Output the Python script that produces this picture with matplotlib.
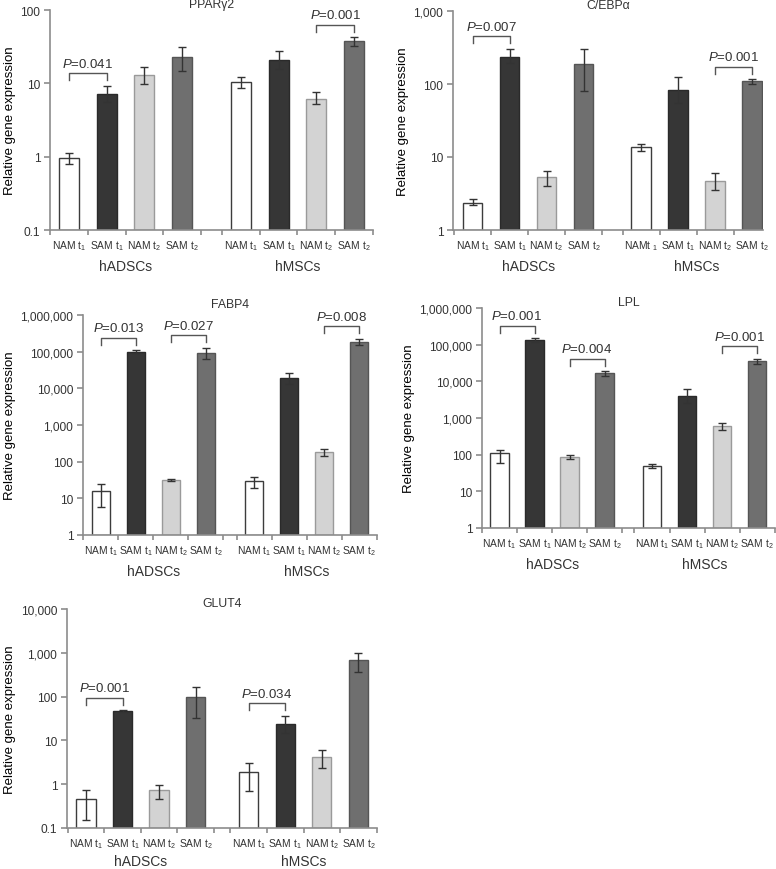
import numpy as np
import matplotlib
matplotlib.use('Agg')
import matplotlib.pyplot as plt
from matplotlib.ticker import FuncFormatter, NullLocator

plt.rcParams['font.family'] = ['Liberation Sans', 'DejaVu Sans']
plt.rcParams['mathtext.fontset'] = 'custom'
plt.rcParams['mathtext.rm'] = 'Liberation Sans'
plt.rcParams['mathtext.it'] = 'Liberation Sans:italic'
plt.rcParams['text.color'] = '#333333'

# --- data ---
groups = ['hADSCs', 'hMSCs']
labels = ['NAM t$_1$', 'SAM t$_1$', 'NAM t$_2$', 'SAM t$_2$']
labels_cebpa = ['NAM t$_1$', 'SAM t$_1$', 'NAM t$_2$', 'SAM t$_2$',
                'NAMt $_1$', 'SAM t$_1$', 'NAM t$_2$', 'SAM t$_2$']

pparg2_mean = [0.95, 7.1, 13.1, 23.1, 10.3, 20.8, 6.2, 37.8]
pparg2_lo = [0.79, 5.5, 9.7, 14.9, 8.6, 15.5, 5.2, 32]
pparg2_hi = [1.12, 9.3, 16.5, 31.6, 12.3, 27.9, 7.7, 42.8]
pparg2_p = [(0, 1, '0.041'), (6, 7, '0.001')]

cebpa_mean = [2.38, 238, 5.34, 187, 13.8, 82.8, 4.75, 109]
cebpa_lo = [2.19, 193, 4.0, 81, 11.9, 55, 3.55, 99]
cebpa_hi = [2.65, 306, 6.5, 300, 15.2, 125, 6.0, 117]
cebpa_p = [(0, 1, '0.007'), (6, 7, '0.001')]

fabp4_mean = [15.8, 98000, 32.3, 94000, 29.7, 18700, 183, 187000]
fabp4_lo = [5.9, 90000, 30.3, 64000, 18.7, 13000, 140, 156000]
fabp4_hi = [25, 109000, 34.4, 128000, 38, 26700, 226, 226000]
fabp4_p = [(0, 1, '0.013'), (2, 3, '0.027'), (6, 7, '0.008')]

lpl_mean = [108, 133000, 89, 16600, 47.6, 3900, 590, 36100]
lpl_lo = [59, 117000, 77, 14400, 42.8, 2500, 459, 30500]
lpl_hi = [136, 151000, 101, 18800, 54, 6200, 743, 41000]
lpl_p = [(0, 1, '0.001'), (2, 3, '0.004'), (6, 7, '0.001')]

glut4_mean = [0.45, 46.5, 0.735, 98.6, 1.89, 23.5, 4.23, 676]
glut4_lo = [0.152, 44, 0.47, 32, 0.69, 15, 2.37, 360]
glut4_hi = [0.75, 49, 0.94, 164, 3.09, 36.4, 5.9, 993]
glut4_p = [(0, 1, '0.001'), (4, 5, '0.034')]

faces = ['white', '#363636', '#d3d3d3', '#6f6f6f']
edges = ['#3c3c3c', '#2a2a2a', '#9a9a9a', '#555555']
AXC = '#8c8c8c'
W, H = 776, 870


def fmt(v, pos):
    return f'{v:,.0f}' if v >= 1 else f'{v:g}'


def bracket(ax, x1, x2, ybase, label):
    # bracket sits a fixed number of pixels above the highest error cap
    yd = ax.transData.transform((0, ybase))[1]
    inv = ax.transData.inverted()
    ytop = inv.transform((0, yd + 12.5))[1]
    ydrop = inv.transform((0, yd + 5.5))[1]
    ax.plot([x1, x1, x2, x2], [ydrop, ytop, ytop, ydrop], color='#555555', lw=1, clip_on=False)
    ax.annotate('$P$=' + label, xy=((x1 + x2) / 2, ytop), xytext=(0, 2.5),
                textcoords='offset points', ha='center', va='bottom', fontsize=9.5)


def panel(fig, px, title, mean, lo, hi, pvals, ylim, gap, xl, tpad, cats, gy=-26):
    l, r, t, b = px
    ax = fig.add_axes([l / W, 1 - b / H, (r - l) / W, (b - t) / H])
    x = np.array([0, 1, 2, 3, 4 + gap, 5 + gap, 6 + gap, 7 + gap])
    mean, lo, hi = np.array(mean), np.array(lo), np.array(hi)
    ax.set_yscale('log')
    ax.set_xlim(xl)
    ax.set_ylim(ylim)
    ax.bar(x, mean - ylim[0], bottom=ylim[0], width=0.53,
           color=faces * 2, edgecolor=edges * 2, linewidth=1, zorder=2)
    ax.errorbar(x, mean, yerr=[mean - lo, hi - mean], fmt='none', ecolor='#333333',
                elinewidth=1, capsize=2.6, capthick=1, zorder=3)
    for i, j, lab in pvals:
        bracket(ax, x[i], x[j], max(hi[i], hi[j]), lab)

    for s in ['top', 'right']:
        ax.spines[s].set_visible(False)
    for s in ['left', 'bottom']:
        ax.spines[s].set_color(AXC)
        ax.spines[s].set_linewidth(1.2)

    dec = np.arange(np.log10(ylim[0]), np.log10(ylim[1]) + 1)
    ax.set_yticks(10.0 ** dec)
    ax.yaxis.set_minor_locator(NullLocator())
    ax.yaxis.set_major_formatter(FuncFormatter(fmt))
    ax.tick_params(axis='y', colors=AXC, labelcolor='#333333', labelsize=8.6, length=4, width=1.2, pad=3)

    ax.set_xticks(x)
    ax.set_xticklabels(cats, fontsize=7.4)
    bnd = sorted(set(np.round(np.concatenate([x - 0.5, x + 0.5]), 3)))
    bnd = [v for v in bnd if xl[0] - 0.02 <= v <= xl[1] + 0.02]
    ax.set_xticks(bnd, minor=True)
    ax.tick_params(axis='x', which='major', length=0, pad=6, labelcolor='#333333')
    ax.tick_params(axis='x', which='minor', length=3.5, width=1.2, color=AXC)

    for g, xs in zip(groups, [x[:4], x[4:]]):
        ax.annotate(g, xy=(xs.mean(), 0), xycoords=('data', 'axes fraction'),
                    xytext=(0, gy), textcoords='offset points',
                    ha='center', va='center', fontsize=10)

    ax.set_ylabel('Relative gene expression', fontsize=9.5, labelpad=3.5)
    ax.set_title(title, fontsize=8.8, pad=tpad)
    return ax


fig = plt.figure(figsize=(W / 100, H / 100), dpi=100)

panel(fig, (50, 373, 11, 231), 'PPARγ2', pparg2_mean, pparg2_lo, pparg2_hi, pparg2_p,
      (0.1, 100), 0.55, (-0.5, 8.05), 0.5, labels * 2)
panel(fig, (453, 763, 12, 231), 'C/EBPα', cebpa_mean, cebpa_lo, cebpa_hi, cebpa_p,
      (1, 1000), 0.56, (-0.53, 7.85), 1.2, labels_cebpa)
panel(fig, (83, 377, 316, 536), 'FABP4', fabp4_mean, fabp4_lo, fabp4_hi, fabp4_p,
      (1, 1e6), 0.38, (-0.51, 7.89), 6, labels * 2)
panel(fig, (482, 775, 309, 529), 'LPL', lpl_mean, lpl_lo, lpl_hi, lpl_p,
      (1, 1e6), 0.35, (-0.5, 7.86), 1.2, labels * 2)
panel(fig, (67, 377, 610, 829), 'GLUT4', glut4_mean, glut4_lo, glut4_hi, glut4_p,
      (0.1, 1e4), 0.45, (-0.52, 7.96), 2, labels * 2, gy=-23.5)

fig.savefig('out.png', dpi=100)
